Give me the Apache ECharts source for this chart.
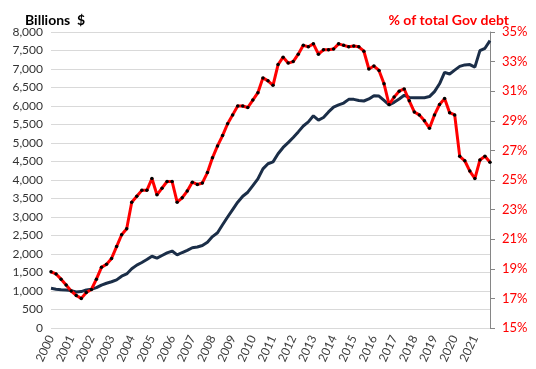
<!DOCTYPE html>
<html><head><meta charset="utf-8">
<script src="https://cdn.jsdelivr.net/npm/echarts@6/dist/echarts.min.js"></script>
<style>html,body{margin:0;padding:0;background:#fff}#c{width:536px;height:369px}</style>
</head><body><div id="c"></div>
<script>
// Year tick labels (quarterly data, 2000Q1 .. 2021Q4)
var years = [2000,2001,2002,2003,2004,2005,2006,2007,2008,2009,2010,2011,2012,2013,2014,2015,2016,2017,2018,2019,2020,2021];
var quarters = ['Q1','Q2','Q3','Q4'];
// Holdings, billions $ (left axis)
var billions = [1073,1050,1035,1027,1010,975,985,1030,1046,1090,1160,1210,1250,1300,1400,1460,
  1600,1700,1770,1850,1940,1890,1960,2030,2080,1975,2040,2100,2170,2190,2230,2320,
  2470,2575,2790,3000,3200,3400,3560,3670,3850,4030,4300,4440,4490,4710,4880,5010,
  5150,5300,5460,5570,5735,5620,5690,5840,5970,6030,6080,6180,6180,6150,6135,6190,
  6280,6270,6150,6030,6100,6190,6290,6230,6224,6224,6224,6255,6390,6600,6910,6865,
  6970,7070,7110,7120,7050,7495,7560,7765];
// Share of total government debt, % (right axis)
var pctDebt = [18.8,18.65,18.3,17.9,17.5,17.2,17.0,17.4,17.6,18.3,19.1,19.3,19.7,20.5,21.3,21.7,
  23.5,23.9,24.3,24.3,25.1,24.0,24.45,24.9,24.9,23.5,23.8,24.25,24.85,24.7,24.8,25.5,
  26.5,27.3,28.0,28.8,29.4,30.0,30.0,29.9,30.4,30.9,31.9,31.7,31.4,32.8,33.3,32.9,
  33.0,33.5,34.1,34.0,34.2,33.5,33.8,33.8,33.85,34.2,34.1,34.0,34.05,34.0,33.7,32.5,
  32.7,32.4,31.5,30.1,30.6,31.0,31.15,30.35,29.6,29.4,29.0,28.5,29.4,30.1,30.5,29.55,
  29.4,26.6,26.3,25.6,25.1,26.35,26.6,26.2];
var leftTicks = [0,500,1000,1500,2000,2500,3000,3500,4000,4500,5000,5500,6000,6500,7000,7500,8000];
var rightTicks = [15,17,19,21,23,25,27,29,31,33,35];

var categories = [];
years.forEach(function(y){ quarters.forEach(function(q){ categories.push(y + q); }); });

var FONT = 'Lato';
var chart = echarts.init(document.getElementById('c'), null, {renderer:'canvas'});
chart.setOption({
  animation:false,
  backgroundColor:'#fff',
  textStyle:{fontFamily:FONT},
  title:[
    {text:'Billions  $', left:20, top:8, textStyle:{fontFamily:FONT, fontSize:14, fontWeight:'bold', color:'#000'}},
    {text:'% of total Gov debt', right:22, top:8, textStyle:{fontFamily:FONT, fontSize:14, fontWeight:'bold', color:'#FF0000'}}
  ],
  grid:{left:51, right:46, top:32, bottom:41, containLabel:false},
  xAxis:{
    type:'category', data:categories, boundaryGap:false,
    axisLine:{show:false}, axisTick:{show:false},
    axisLabel:{interval:3, rotate:65, margin:8, fontSize:12, color:'#404040', fontFamily:FONT,
      formatter:function(v){ return v.slice(0,4); }},
    splitLine:{show:false}
  },
  yAxis:[
    {type:'value', min:0, max:8000, interval:500, position:'left',
     axisLine:{show:false}, axisTick:{show:false},
     axisLabel:{fontSize:12, color:'#333', margin:8, fontFamily:FONT,
       customValues:leftTicks,
       formatter:function(v){ return v.toLocaleString('en-US'); }},
     splitLine:{show:true, lineStyle:{color:'#D9D9D9', width:1}}},
    {type:'value', min:15, max:35, position:'right',
     axisLine:{show:true, lineStyle:{color:'#868686', width:1}},
     axisTick:{show:true, length:5, customValues:rightTicks, lineStyle:{color:'#868686'}},
     axisLabel:{fontSize:13, color:'#FF0000', margin:12, fontFamily:FONT, customValues:rightTicks,
       formatter:function(v){ return v + '%'; }},
     splitLine:{show:false}}
  ],
  series:[
    {type:'line', name:'Billions', yAxisIndex:0, data:billions, showSymbol:false, smooth:false,
     lineStyle:{color:'#1B2E48', width:3}, z:2},
    {type:'line', name:'% of total Gov debt', yAxisIndex:1, data:pctDebt, symbol:'circle', symbolSize:3.5,
     showSymbol:true, showAllSymbol:true, itemStyle:{color:'#000'}, lineStyle:{color:'#FF0000', width:3}, z:3}
  ]
});
</script></body></html>
